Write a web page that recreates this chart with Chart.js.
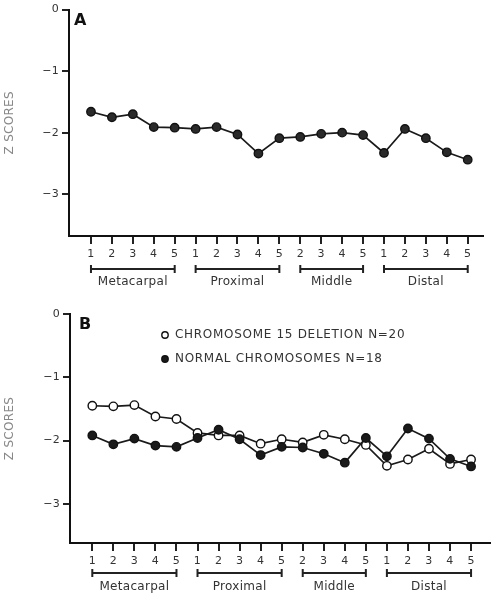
<!DOCTYPE html>
<html><head><meta charset="utf-8">
<script src="https://cdn.jsdelivr.net/npm/chart.js@4.4.0/dist/chart.umd.min.js"></script>
<style>
html,body{margin:0;padding:0;background:#fff;}
#wrap{position:relative;width:496px;height:600px;overflow:hidden;}
.box{position:absolute;left:0;width:496px;height:300px;}
</style></head><body>
<div id="wrap">
<div class="box" style="top:0"><canvas id="cA" width="496" height="300"></canvas></div>
<div class="box" style="top:300px"><canvas id="cB" width="496" height="300"></canvas></div>
</div>
<script>
// ---- data ----
const boneLabels = ['1','2','3','4','5','1','2','3','4','5','2','3','4','5','1','2','3','4','5'];
const groupNames = ['Metacarpal','Proximal','Middle','Distal'];
const groupStart = [0,5,10,14];
const groupEnd   = [4,9,13,18];
const yTickValues = [0,-1,-2,-3];
const yTickLabels = ['0','\u22121','\u22122','\u22123'];
const panelA = [-1.66,-1.75,-1.70,-1.91,-1.92,-1.94,-1.91,-2.03,-2.34,-2.09,-2.07,-2.02,-2.00,-2.04,-2.33,-1.94,-2.09,-2.32,-2.44];
const deletion15 = [-1.45,-1.46,-1.44,-1.62,-1.66,-1.88,-1.92,-1.92,-2.05,-1.98,-2.03,-1.91,-1.98,-2.07,-2.40,-2.30,-2.13,-2.37,-2.30];
const normalChrom = [-1.92,-2.06,-1.97,-2.08,-2.10,-1.96,-1.83,-1.98,-2.23,-2.10,-2.11,-2.21,-2.35,-1.96,-2.25,-1.81,-1.97,-2.29,-2.41];
const legendLabels = ['CHROMOSOME 15 DELETION N=20','NORMAL CHROMOSOMES N=18'];
const axisTitle = 'Z SCORES';

const FONT = "'DejaVu Sans', sans-serif";
const toPts = arr => arr.map((v,i)=>({x:i,y:v}));

const decorPlugin = {
  id:'decor',
  beforeDraw(chart){ chart.ctx.letterSpacing = '0.3px'; },
  afterDraw(chart, args, o){
    const ctx = chart.ctx, xs = chart.scales.x, ca = chart.chartArea;
    ctx.save();
    // group brackets
    ctx.strokeStyle = '#222'; ctx.lineWidth = 2;
    ctx.fillStyle = '#333';
    ctx.font = '12px ' + FONT; ctx.letterSpacing = '0.3px';
    ctx.textAlign = 'center'; ctx.textBaseline = 'middle';
    groupNames.forEach((name,g)=>{
      const x1 = xs.getPixelForValue(groupStart[g]);
      const x2 = xs.getPixelForValue(groupEnd[g]);
      const y = ca.bottom + o.bracketY;
      ctx.beginPath();
      ctx.moveTo(x1,y); ctx.lineTo(x2,y);
      ctx.moveTo(x1,y-4); ctx.lineTo(x1,y+4);
      ctx.moveTo(x2,y-4); ctx.lineTo(x2,y+4);
      ctx.stroke();
      ctx.fillText(name,(x1+x2)/2, ca.bottom + o.labelY);
    });
    // panel letter
    ctx.letterSpacing = '0px';
    ctx.font = 'bold 16px ' + FONT; ctx.fillStyle = '#111';
    ctx.textAlign = 'left';
    ctx.fillText(o.letter, ca.left + o.letterDX, ca.top + o.letterDY);
    // legend
    if (o.legend){
      ctx.font = '12px ' + FONT; ctx.letterSpacing = '0.7px'; ctx.fillStyle = '#333';
      chart.data.datasets.forEach((ds,i)=>{
        const y = o.legendY + i*o.legendGap;
        ctx.beginPath(); ctx.arc(o.legendX, y, 3.2, 0, Math.PI*2);
        ctx.fillStyle = ds.pointBackgroundColor; ctx.fill();
        ctx.lineWidth = 1.4; ctx.strokeStyle = '#111'; ctx.stroke();
        ctx.fillStyle = '#333';
        ctx.fillText(ds.label, o.legendX + 10, y);
      });
    }
    ctx.restore();
  }
};

function makeChart(id, datasets, p){
  return new Chart(document.getElementById(id), {
    type:'line',
    data:{datasets},
    plugins:[decorPlugin],
    options:{
      responsive:false, animation:false, devicePixelRatio:1,
      layout:{padding:{top:p.padTop,right:p.padRight,left:0,bottom:0}},
      plugins:{legend:{display:false}, tooltip:{enabled:false}, decor:p.decor},
      scales:{
        x:{type:'linear', min:p.xMin, max:p.xMax,
          afterBuildTicks: s => { s.ticks = boneLabels.map((_,i)=>({value:i})); },
          afterFit: s => { s.height = p.xHeight; },
          ticks:{callback: v => boneLabels[Math.round(v)], autoSkip:false, maxRotation:0,
            color:'#333', font:{family:FONT,size:11}, padding:4},
          grid:{drawOnChartArea:false, drawTicks:true, tickLength:8, lineWidth:2, color:'#222'},
          border:{display:true, color:'#111', width:2}
        },
        y:{type:'linear', min:p.yMin, max:0,
          afterBuildTicks: s => { s.ticks = yTickValues.map(v=>({value:v})); },
          afterFit: s => { s.width = p.yWidth; },
          ticks:{callback: v => yTickLabels[yTickValues.indexOf(v)], color:'#333',
            font:{family:FONT,size:11}, padding:3},
          grid:{drawOnChartArea:false, drawTicks:true, tickLength:7, lineWidth:2, color:'#222'},
          border:{display:true, color:'#111', width:2},
          title:{display:true, text:axisTitle, color:'#888', font:{family:FONT,size:12}, padding:{top:3,bottom:0}}
        }
      }
    }
  });
}

const lineBase = {borderColor:'#1a1a1a', borderWidth:1.7, pointRadius:4.2, pointBorderWidth:1.4,
  pointBorderColor:'#111', tension:0, fill:false};

makeChart('cA', [
  Object.assign({}, lineBase, {label:'All', data:toPts(panelA), pointBackgroundColor:'#2a2a2a'})
], {padTop:8, padRight:13, xMin:-1.05, xMax:18.73, yMin:-3.68, xHeight:64, yWidth:69,
   decor:{bracketY:33, labelY:46, letter:'A', letterDX:5, letterDY:11}});

makeChart('cB', [
  Object.assign({}, lineBase, {label:legendLabels[1], data:toPts(normalChrom), pointBackgroundColor:'#1a1a1a'}),
  Object.assign({}, lineBase, {label:legendLabels[0], data:toPts(deletion15), pointBackgroundColor:'#ffffff'})
], {padTop:14, padRight:6, xMin:-1.06, xMax:18.9, yMin:-3.62, xHeight:57, yWidth:70,
   decor:{bracketY:30, labelY:44, letter:'B', letterDX:9, letterDY:11,
     legend:true, legendX:165, legendY:59, legendGap:-24}});
</script>
</body></html>
